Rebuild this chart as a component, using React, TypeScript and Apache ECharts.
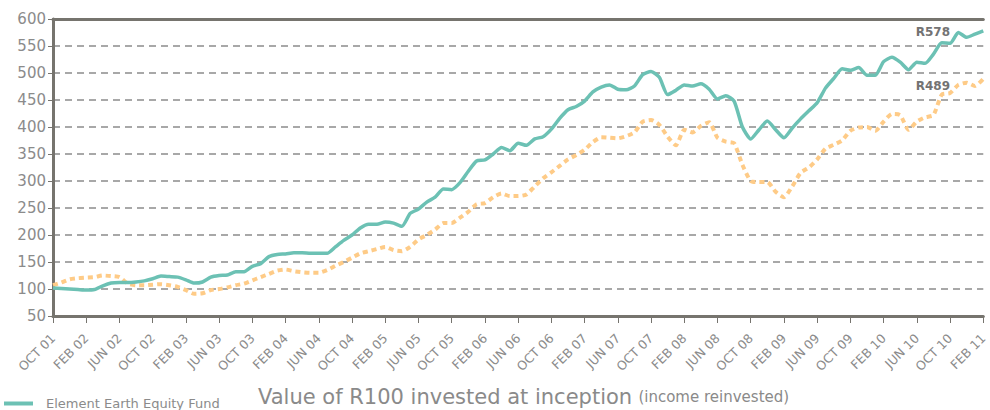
import React, { useEffect, useRef } from "react";
import * as echarts from "echarts";

const monthNames = ["OCT", "NOV", "DEC", "JAN", "FEB", "MAR", "APR", "MAY", "JUN", "JUL", "AUG", "SEP"];
// monthly categories from Oct 2001 to Feb 2011
const categories: string[] = [];
for (let i = 0; i <= 112; i++) {
  const mIdx = i % 12;
  const yr = 1 + Math.floor((i + 9) / 12);
  categories.push(`${monthNames[mIdx]} ${String(yr).padStart(2, "0")}`);
}

const fundName = "Element Earth Equity Fund";
const benchName = "Benchmark";

const fund = [
  102, 101, 100, 99, 98, 99, 106, 111, 112, 112, 113, 115, 119, 124, 123, 122,
  117, 111, 113, 122, 125, 126, 132, 132, 142, 147, 160, 164, 165, 167, 167, 166,
  166, 166, 178, 190, 200, 213, 220, 220, 224, 222, 216, 240, 248, 261, 270, 285,
  284, 297, 318, 337, 339, 350, 362, 356, 370, 366, 378, 382, 396, 416, 432, 438,
  448, 465, 474, 478, 470, 469, 476, 497, 503, 492, 460, 468, 478, 476, 480, 470,
  452, 458, 448, 400, 378, 395, 411, 395, 380, 398, 415, 430, 445, 472, 490, 508,
  505, 510, 496, 496, 521, 529, 520, 506, 520, 518, 535, 556, 555, 575, 566, 572,
  578,
];

const bench = [
  107, 112, 118, 120, 121, 122, 125, 124, 122, 110, 107, 107, 108, 109, 107, 104,
  98, 91, 92, 98, 100, 103, 107, 110, 116, 122, 128, 134, 136, 133, 131, 130,
  130, 135, 143, 150, 158, 166, 170, 174, 178, 172, 170, 178, 192, 200, 210, 222,
  222, 232, 243, 257, 259, 270, 277, 272, 272, 275, 290, 305, 316, 328, 340, 348,
  358, 372, 381, 380, 379, 383, 390, 410, 413, 404, 382, 366, 395, 390, 402, 409,
  380, 373, 370, 330, 300, 298, 298, 280, 270, 290, 315, 325, 340, 360, 367, 375,
  393, 399, 400, 393, 410, 424, 422, 395, 410, 418, 422, 460, 463, 478, 482, 476,
  489,
];

const yTicks = { min: 50, max: 600, interval: 50 };

const TEAL = "#6cc1b4";
const ORANGE = "#fecb87";
const AXIS = "#76746e";
const LABEL = "#8b8b8b";
const FONT = "DejaVu Sans";

export default function App() {
  const ref = useRef<HTMLDivElement>(null);
  useEffect(() => {
    if (!ref.current) return;
    const chart = echarts.init(ref.current, null, { renderer: "svg" });
    chart.setOption({
      animation: false,
      backgroundColor: "#ffffff",
      textStyle: { fontFamily: FONT },
      grid: { left: 53, right: -1, top: 19, bottom: 94, containLabel: false },
      title: {
        left: 253,
        top: 381,
        text: "{a|Value of R100 invested at inception} {b|(income reinvested)}",
        textStyle: {
          rich: {
            a: { fontSize: 21, color: "#8a8a8a", fontFamily: FONT, fontWeight: "normal" },
            b: { fontSize: 15, color: "#8a8a8a", fontFamily: FONT, fontWeight: "normal" },
          },
        },
      },
      legend: {
        data: [fundName],
        left: -1,
        top: 392,
        icon: "rect",
        itemWidth: 29,
        itemHeight: 4,
        textStyle: { color: LABEL, fontSize: 13, fontFamily: FONT, padding: [0, 0, 0, 8] },
      },
      xAxis: [
        {
          type: "category",
          data: categories,
          boundaryGap: false,
          axisLine: { lineStyle: { color: AXIS, width: 3 } },
          axisTick: { interval: 3, length: 7, lineStyle: { color: AXIS, width: 1 } },
          axisLabel: {
            interval: 3,
            rotate: 45,
            color: LABEL,
            fontSize: 12.5,
            fontFamily: FONT,
            margin: 20,
          },
          splitLine: { show: false },
        },
        {
          type: "category",
          data: categories,
          boundaryGap: false,
          position: "top",
          axisLine: { lineStyle: { color: AXIS, width: 3 } },
          axisTick: { show: false },
          axisLabel: { show: false },
        },
      ],
      yAxis: {
        type: "value",
        min: yTicks.min,
        max: yTicks.max,
        interval: yTicks.interval,
        axisLine: { show: true, lineStyle: { color: AXIS, width: 3 } },
        axisTick: { show: true, length: 5, lineStyle: { color: AXIS, width: 1 } },
        axisLabel: { color: LABEL, fontSize: 15, fontFamily: FONT, margin: 7 },
        splitLine: { lineStyle: { color: "#8c8c8c", width: 1.5, type: [7, 5] } },
      },
      series: [
        {
          name: benchName,
          type: "line",
          data: bench,
          smooth: 0.2,
          showSymbol: false,
          lineStyle: { color: ORANGE, width: 4, type: [5, 4], cap: "butt" },
          itemStyle: { color: ORANGE },
          z: 2,
        },
        {
          name: fundName,
          type: "line",
          data: fund,
          smooth: 0.2,
          showSymbol: false,
          lineStyle: { color: TEAL, width: 3.5 },
          itemStyle: { color: TEAL },
          z: 3,
        },
      ],
      graphic: [
        {
          type: "text",
          right: 990 - 950,
          top: 26,
          style: {
            text: `R${fund[fund.length - 1]}`,
            fill: "#737373",
            font: `bold 12px ${FONT}`,
          },
        },
        {
          type: "text",
          right: 990 - 950,
          top: 80,
          style: {
            text: `R${bench[bench.length - 1]}`,
            fill: "#737373",
            font: `bold 12px ${FONT}`,
          },
        },
      ],
    });
    return () => chart.dispose();
  }, []);
  return (
    <div
      ref={ref}
      style={{ position: "fixed", left: 0, top: 0, width: 990, height: 410, background: "#fff" }}
    />
  );
}
